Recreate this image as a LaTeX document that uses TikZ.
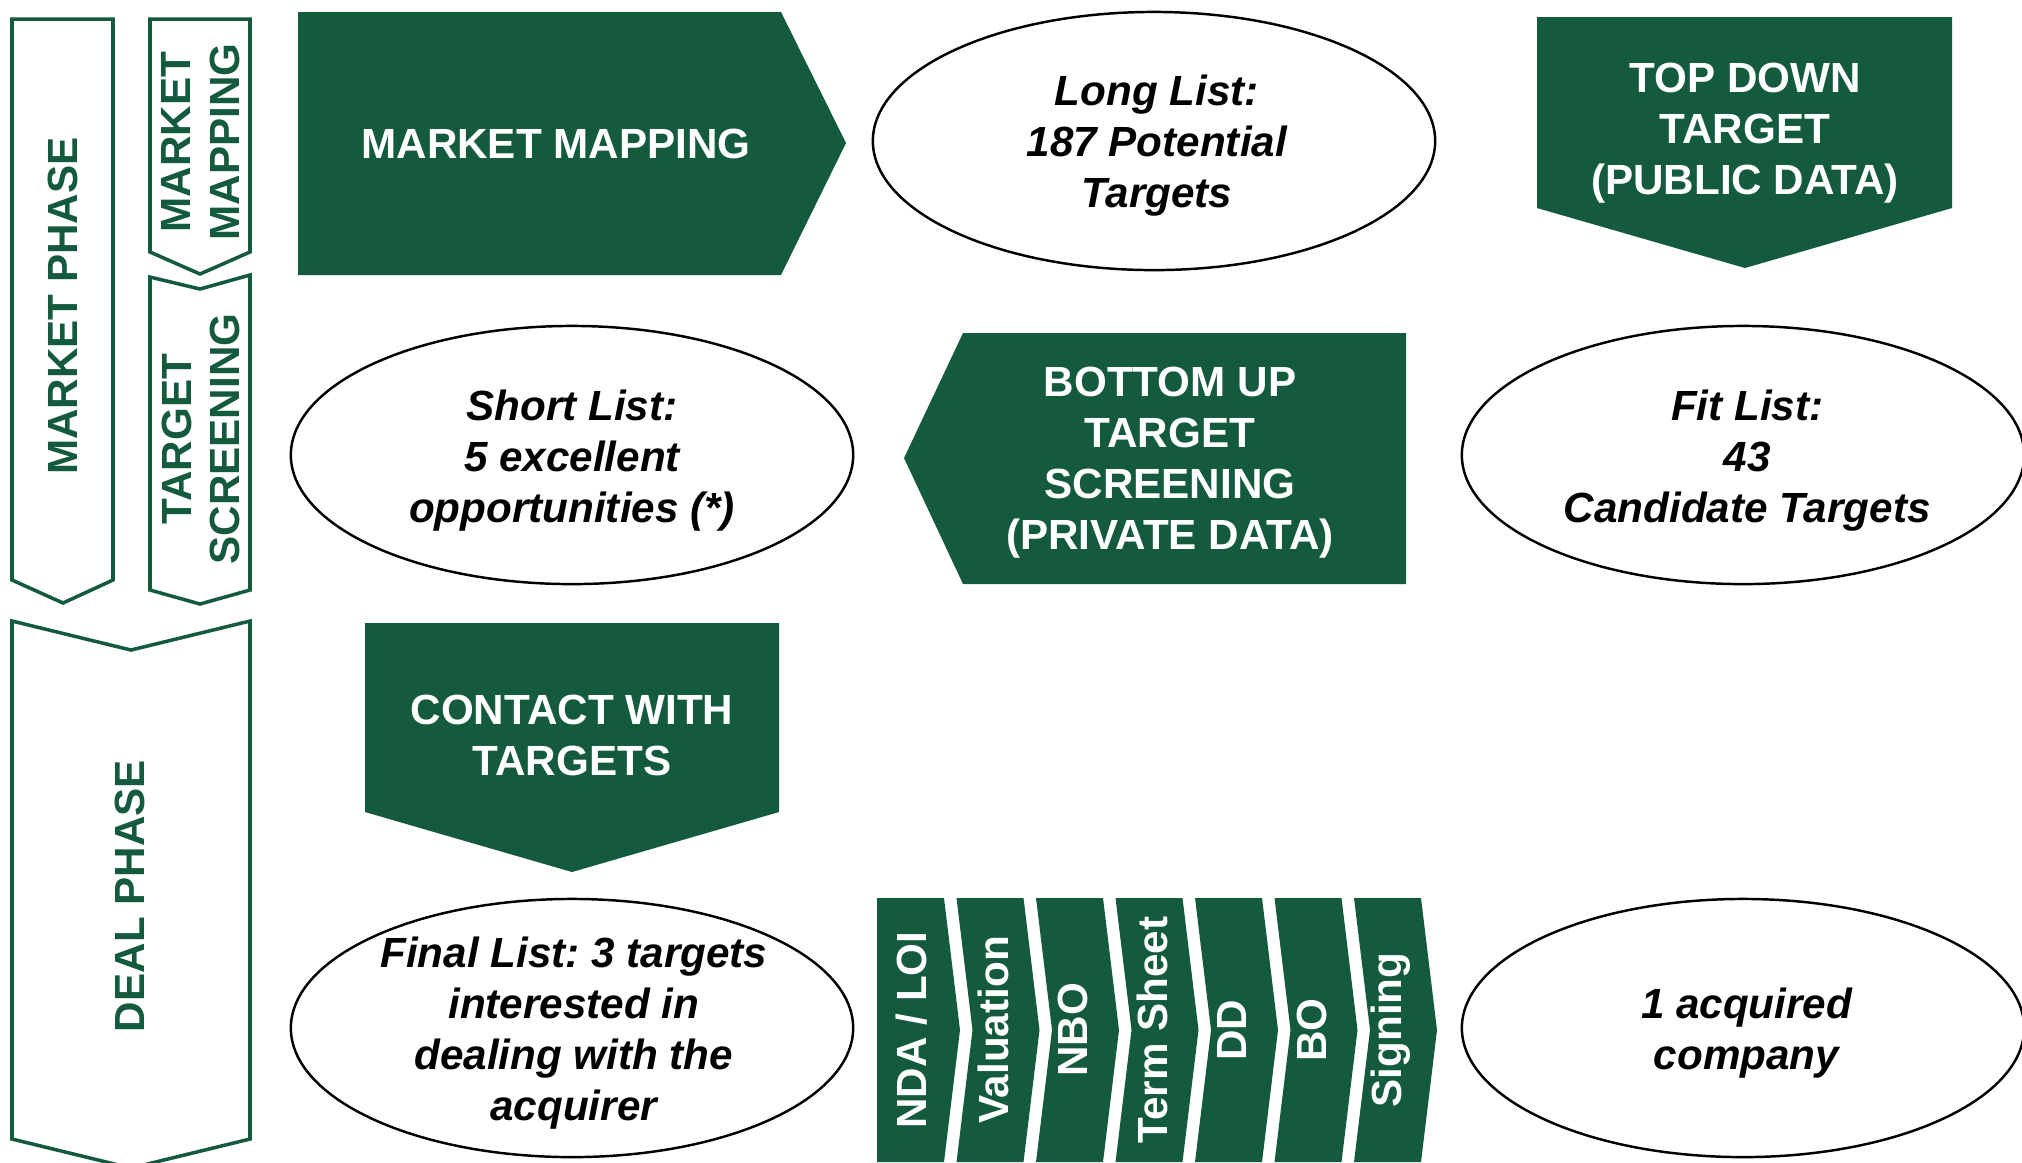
\documentclass[tikz,border=0pt]{standalone}
\usepackage{fontspec}
\setmainfont{Liberation Sans}
\usetikzlibrary{shapes.geometric}
\definecolor{dealgreen}{RGB}{20,90,60}
\frenchspacing
\begin{document}
\begin{tikzpicture}[x=0.01cm,y=-0.01cm,
  lbl/.style={font=\bfseries\fontsize{12}{14.5}\selectfont, align=center, inner sep=0pt},
  onfill/.style={lbl, text=white},
  sidetxt/.style={lbl, text=dealgreen, rotate=90, font=\bfseries\fontsize{12}{13.9}\selectfont},
  steptxt/.style={lbl, text=white, rotate=90},
  listoval/.style={ellipse, draw=black, line width=0.7pt, minimum width=5.62cm,
    minimum height=2.58cm, inner sep=0pt},
  ovaltxt/.style={lbl, font=\bfseries\itshape\fontsize{12}{14.5}\selectfont, yshift=-1.4pt},
  greenfill/.style={fill=dealgreen, draw=none},
  greenline/.style={draw=dealgreen, line width=1pt, line join=miter, fill=white}]
\path[use as bounding box] (0,0) rectangle (2022,1162);
\clip (0,0) rectangle (2022,1162);

% ---- phase banners on the left ----
\path[greenline] (12,19) -- (113,19) -- (113,580) -- (63,603) -- (12,580) -- cycle;
\node[sidetxt] (marketphase) at (63,306) {MARKET PHASE};

\path[greenline] (150,19) -- (250,19) -- (250,252) -- (200,274) -- (150,252) -- cycle;
\node[sidetxt] (mapstage) at (201,142) {MARKET\\MAPPING};

\path[greenline] (150,277) -- (200,289) -- (250,275) -- (250,590) -- (200,604) -- (150,590) -- cycle;
\node[sidetxt] (screenstage) at (201,439) {TARGET\\SCREENING};

\path[greenline] (12,621) -- (131,650) -- (250,621) -- (250,1139) -- (131,1168) -- (12,1139) -- cycle;
\node[sidetxt] (dealphase) at (130,896) {DEAL PHASE};

% ---- row 1 ----
\path[greenfill] (298,12) -- (781,12) -- (846,143) -- (781,275) -- (298,275) -- cycle;
\node[onfill] (mapping) at (556,144) {MARKET MAPPING};

\node[listoval] (longlist) at (1154,141) {};
\node[ovaltxt] (longlisttxt) at ([xshift=0.8pt]longlist.center) {Long List:\\187 Potential\\Targets};

\path[greenfill] (1537,17) -- (1952,17) -- (1952,208) -- (1745,268) -- (1537,208) -- cycle;
\node[onfill] (topdown) at (1745,133) {TOP DOWN\\TARGET\\(PUBLIC DATA)};

% ---- row 2 ----
\node[listoval] (shortlist) at (572,455) {};
\node[ovaltxt] (shortlisttxt) at ([yshift=-0.3pt]shortlist.center) {Short List:\\5 excellent\\opportunities (*)};

\path[greenfill] (963,333) -- (1406,333) -- (1406,584) -- (963,584) -- (904,458) -- cycle;
\node[onfill] (bottomup) at (1170,463) {BOTTOM UP\\TARGET\\SCREENING\\(PRIVATE DATA)};

\node[listoval] (fitlist) at (1743,455) {};
\node[ovaltxt] (fitlisttxt) at ([xshift=1.2pt,yshift=-0.3pt]fitlist.center) {Fit List:\\43\\Candidate Targets};

% ---- row 3 ----
\path[greenfill] (365,623) -- (779,623) -- (779,812) -- (572,872) -- (365,812) -- cycle;
\node[onfill] (contact) at (572,735) {CONTACT WITH\\TARGETS};

% ---- row 4 ----
\node[listoval] (finallist) at (572,1028) {};
\node[ovaltxt] (finallisttxt) at ([xshift=0.5pt]finallist.center) {Final List: 3 targets\\interested in\\dealing with the\\acquirer};

% deal steps as a row of chevrons
\path[greenfill] (877,898) -- (944,898) -- (960,1030) -- (944,1162) -- (877,1162) -- cycle;
\node[steptxt] (nda) at (912,1030) {NDA / LOI};
\foreach \i/\txt/\nm in {1/Valuation/valuation, 2/NBO/nbo, 3/Term Sheet/termsheet,
                         4/DD/dd, 5/BO/bo, 6/Signing/signing} {
  \pgfmathsetmacro{\xo}{877+79.5*\i}
  \path[greenfill] (\xo,898) -- (\xo+67,898) -- (\xo+83,1030) -- (\xo+67,1162)
    -- (\xo,1162) -- (\xo+16,1030) -- cycle;
  \node[steptxt] (\nm) at (\xo+37,1030) {\txt};
}

\node[listoval] (acquired) at (1743,1028) {};
\node[ovaltxt] (acquiredtxt) at ([xshift=1pt]acquired.center) {1 acquired\\company};
\end{tikzpicture}
\end{document}
